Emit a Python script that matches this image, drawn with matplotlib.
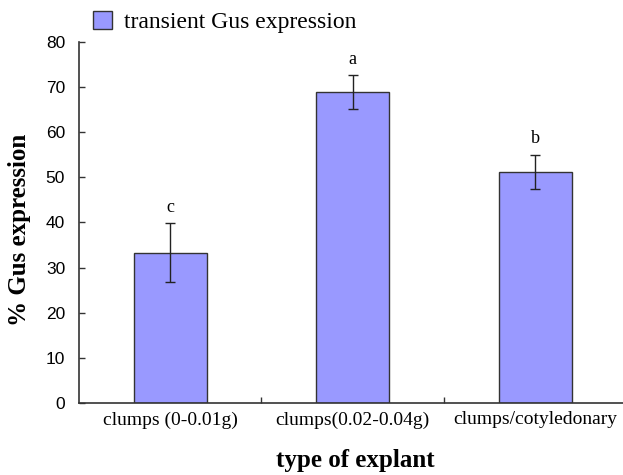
import numpy as np
import matplotlib
matplotlib.use('Agg')
import matplotlib.pyplot as plt

# data
categories = ['clumps (0-0.01g)', 'clumps(0.02-0.04g)', 'clumps/cotyledonary']
gus_mean = [33.3, 68.9, 51.2]
gus_err = [6.6, 3.7, 3.8]
letters = ['c', 'a', 'b']
yticks = [0, 10, 20, 30, 40, 50, 60, 70, 80]

serif = ['Liberation Serif', 'DejaVu Serif']
sans = ['Liberation Sans', 'DejaVu Sans']

W, H = 623, 475
fig = plt.figure(figsize=(W / 100, H / 100), dpi=100)
# plot area: y axis at x=79, zero at y=403, 80 at y=41.7, category width ~182.5 px
ax = fig.add_axes([79 / W, (H - 403) / H, 547.5 / W, 361.3 / H])

x = np.arange(len(categories))
ax.bar(x, gus_mean, width=0.40, color='#9999ff', edgecolor='#333333',
       linewidth=1.0, label='transient Gus expression', zorder=2)
ax.errorbar(x, gus_mean, yerr=gus_err, fmt='none', ecolor='#222222',
            elinewidth=1.0, capsize=3.6, capthick=1.0, zorder=3)

for xi, m, e, l in zip(x, gus_mean, gus_err, letters):
    ax.text(xi, m + e + 1.6, l, ha='center', va='bottom',
            family=serif, fontsize=13)

ax.set_xlim(-0.5, len(categories) - 0.5)
ax.set_ylim(0, 80)
ax.set_yticks(yticks)
ax.set_yticklabels([str(v) for v in yticks], family=sans, fontsize=12.5)

# category labels centred, ticks at the boundaries
ax.set_xticks(x)
ax.set_xticklabels(categories, family=serif, fontsize=14)
ax.tick_params(axis='x', which='major', length=0, pad=6)
ax.set_xticks(np.arange(0.5, len(categories) - 0.5, 1), minor=True)
ax.tick_params(axis='x', which='minor', direction='in', length=4.5, width=1.0,
               color='#333333')
ax.tick_params(axis='y', direction='in', length=4.5, width=1.0,
               color='#333333', pad=10)

for s in ['top', 'right']:
    ax.spines[s].set_visible(False)
for s in ['left', 'bottom']:
    ax.spines[s].set_linewidth(1.2)
    ax.spines[s].set_color('#333333')

fig.text(20 / W, 1 - 230 / H, '% Gus expression', family=serif, fontsize=18,
         fontweight='bold', rotation=90, ha='center', va='center')
fig.text(355 / W, 1 - 461 / H, 'type of explant', family=serif, fontsize=18,
         fontweight='bold', ha='center', va='center')

leg = fig.legend(loc='center left', bbox_to_anchor=(93 / W, 1 - 22 / H),
                 frameon=False, prop={'family': serif, 'size': 17},
                 handlelength=0.8, handleheight=0.8, handletextpad=0.5,
                 borderpad=0, borderaxespad=0)

fig.savefig('out.png', dpi=100)
